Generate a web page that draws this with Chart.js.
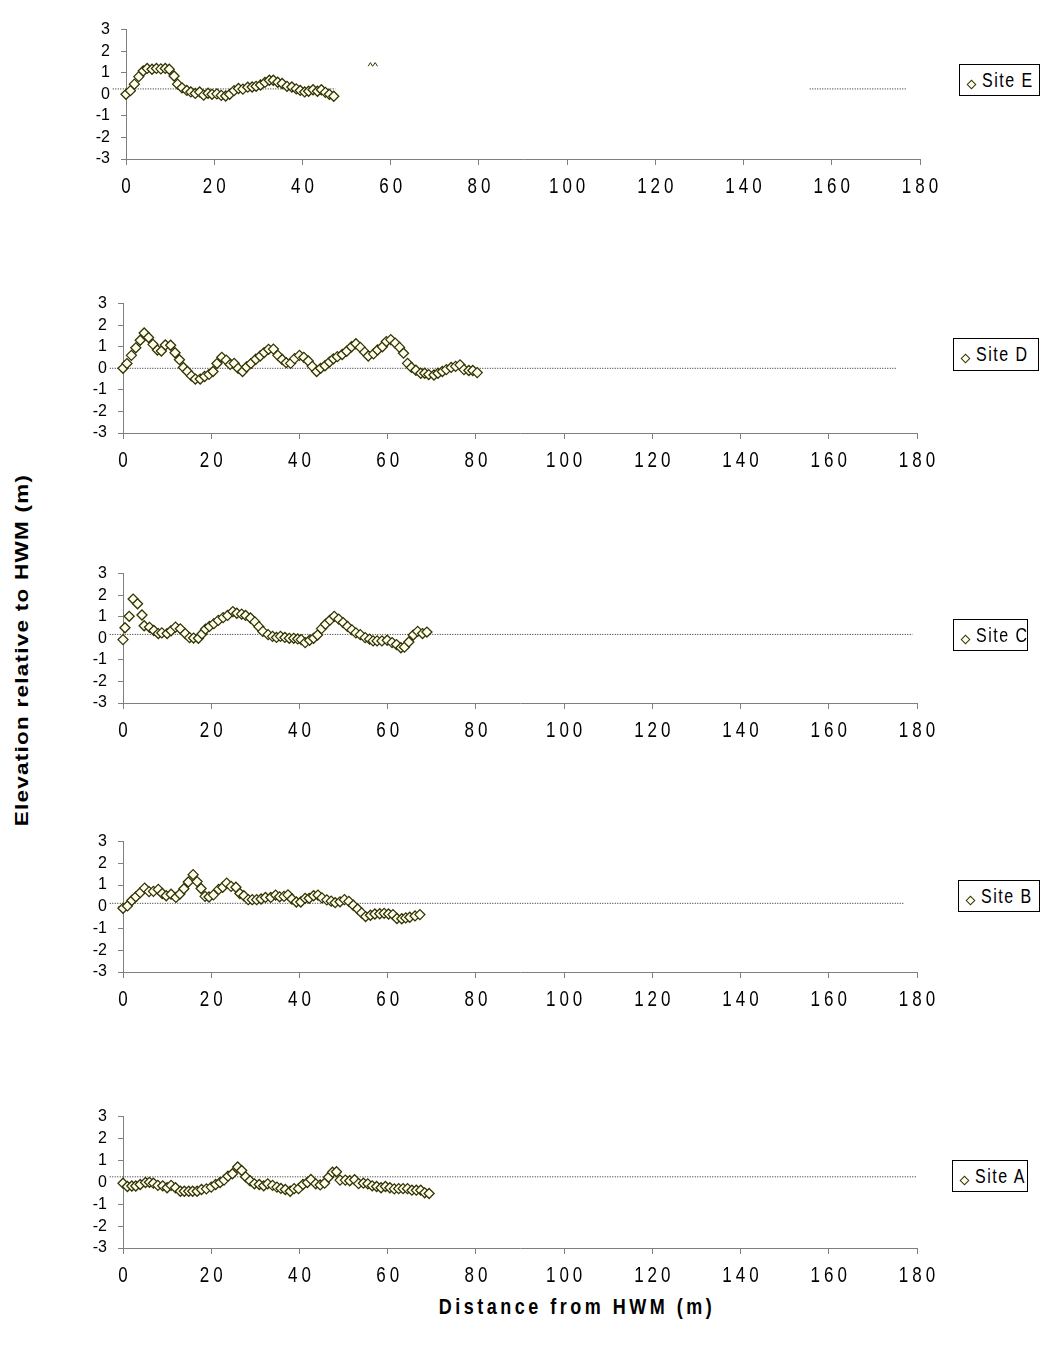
<!DOCTYPE html>
<html>
<head>
  <meta charset="UTF-8">
  <title>Beach profiles</title>
  <script src="https://cdn.jsdelivr.net/npm/chart.js"></script>
  <style>
    body {
      margin: 0;
      background: #fff;
      font-family: Arial, "Liberation Sans", sans-serif;
    }
    #page {
      position: relative;
      width: 1041px;
      height: 1350px;
      overflow: hidden;
      background: #fff;
    }
    canvas {
      position: absolute;
      left: 0;
    }
    .legend {
      position: absolute;
      box-sizing: border-box;
      border: 1px solid #000;
      background: #fff;
    }
    .legend .key {
      position: absolute;
      left: 8px;
      top: 16px;
      width: 5px;
      height: 5px;
      border: 1px solid #333300;
      background: #fffff0;
      transform: rotate(45deg);
    }
    .legend .txt {
      position: absolute;
      left: 22px;
      top: 4px;
      font-size: 16px;
      letter-spacing: 1.5px;
      white-space: nowrap;
      transform: scaleY(1.25);
      transform-origin: left top;
    }
    #ytitle {
      position: absolute;
      left: 22px;
      top: 650px;
      font-size: 18px;
      font-weight: bold;
      letter-spacing: 1px;
      white-space: nowrap;
      transform: translate(-50%, -50%) rotate(-90deg) scale(1.25, 1);
    }
    #xtitle {
      position: absolute;
      left: 577px;
      top: 1307px;
      font-size: 18px;
      font-weight: bold;
      letter-spacing: 3.5px;
      white-space: nowrap;
      transform: translate(-50%, -50%) scale(1, 1.2);
    }
  </style>
</head>
<body>
  <div id="page">
    <div id="ytitle">Elevation relative to HWM (m)</div>
    <div id="xtitle">Distance from HWM (m)</div>
  </div>
  <script>
    // profile readings, distance (m) and elevation (m)
    const siteE_x = [0, 1, 1.9, 2.9, 3.9, 4.8, 5.9, 6.9, 7.9, 8.9, 9.8, 10.9, 11.7, 12.7, 13.8, 14.7, 15.7, 16.7, 17.6, 18.6, 19.5, 20.6, 21.6, 22.6, 23.5, 24.5, 25.5, 26.5, 27.6, 28.6, 29.5, 30.5, 31.5, 32.5, 33.4, 34.4, 35.4, 36.5, 37.6, 38.6, 39.5, 40.5, 41.4, 42.4, 43.4, 44.3, 45.2, 46.1, 47.1];
    const siteE_y = [0, 0.17, 0.47, 0.82, 1.08, 1.2, 1.16, 1.2, 1.18, 1.2, 1.16, 0.85, 0.47, 0.3, 0.18, 0.11, 0.04, 0.11, -0.04, 0.05, 0, 0.02, -0.05, -0.08, 0, 0.17, 0.27, 0.24, 0.33, 0.34, 0.37, 0.43, 0.55, 0.65, 0.65, 0.56, 0.5, 0.37, 0.34, 0.25, 0.18, 0.11, 0.14, 0.21, 0.14, 0.21, 0.09, 0, -0.09];

    const siteD_x = [0, 0.9, 1.9, 2.9, 3.9, 4.8, 5.8, 6.8, 7.8, 8.7, 9.6, 10.8, 11.8, 12.8, 13.7, 14.6, 15.5, 16.4, 17.5, 18.5, 19.5, 20.4, 21.3, 22.4, 23.4, 24.3, 25.2, 26.1, 27.1, 28.0, 29.0, 30.1, 31.1, 32.0, 33.0, 34.1, 35.1, 36.1, 37.0, 38.0, 38.9, 40.0, 41.0, 42.0, 42.9, 43.9, 44.8, 45.8, 46.8, 47.7, 48.6, 49.7, 50.7, 51.8, 52.8, 53.8, 54.8, 55.6, 56.8, 57.7, 58.8, 59.7, 60.7, 61.7, 62.7, 63.6, 64.5, 65.4, 66.4, 67.5, 68.4, 69.3, 70.5, 71.4, 72.4, 73.3, 74.4, 75.4, 76.4, 77.3, 78.4, 79.3, 80.3];
    const siteD_y = [0, 0.22, 0.6, 0.95, 1.3, 1.64, 1.43, 1.11, 0.85, 0.8, 1.08, 1.07, 0.72, 0.4, 0.04, -0.15, -0.35, -0.5, -0.5, -0.38, -0.28, -0.15, 0.22, 0.51, 0.38, 0.18, 0.23, 0, -0.15, 0.06, 0.22, 0.42, 0.57, 0.73, 0.88, 0.89, 0.6, 0.41, 0.26, 0.23, 0.45, 0.6, 0.51, 0.34, 0.09, -0.15, 0, 0.12, 0.29, 0.44, 0.54, 0.64, 0.79, 1.0, 1.14, 0.97, 0.75, 0.57, 0.67, 0.85, 1.0, 1.24, 1.33, 1.17, 0.97, 0.7, 0.23, 0.04, -0.09, -0.23, -0.23, -0.29, -0.31, -0.23, -0.15, -0.06, 0.04, 0.09, 0.16, -0.06, -0.1, -0.1, -0.2];

    const siteC_x = [0, 0.45, 1.4, 2.3, 3.3, 4.3, 4.8, 6.0, 7.0, 8.0, 8.8, 10.0, 10.9, 11.9, 13.0, 14.1, 15.1, 16.0, 17.1, 17.9, 18.7, 19.6, 20.6, 21.6, 22.7, 23.7, 24.9, 25.8, 26.9, 27.8, 28.9, 29.9, 30.8, 31.7, 32.9, 33.9, 34.8, 35.7, 36.7, 37.7, 38.7, 39.6, 40.4, 41.3, 42.3, 43.2, 44.1, 45.0, 45.9, 46.9, 47.9, 48.9, 49.9, 50.9, 51.9, 52.8, 53.8, 54.9, 55.9, 56.7, 57.6, 58.7, 59.9, 61.0, 62.0, 63.0, 63.8, 64.8, 65.8, 66.8, 67.9, 68.9];
    const siteC_y = [-0.06, 0.49, 1.02, 1.82, 1.6, 1.08, 0.58, 0.51, 0.36, 0.22, 0.25, 0.22, 0.35, 0.52, 0.44, 0.22, 0.03, 0.01, 0, 0.2, 0.42, 0.55, 0.68, 0.83, 0.96, 1.06, 1.24, 1.16, 1.12, 1.06, 0.94, 0.76, 0.54, 0.32, 0.17, 0.09, 0.04, 0.09, 0.04, 0, 0, -0.03, -0.06, -0.2, -0.09, 0, 0.15, 0.45, 0.65, 0.84, 1.02, 0.89, 0.73, 0.55, 0.39, 0.25, 0.17, 0.03, -0.04, -0.12, -0.12, -0.12, -0.09, -0.2, -0.29, -0.44, -0.41, -0.17, 0.15, 0.32, 0.22, 0.29];

    const siteB_x = [0, 1.0, 2.0, 2.9, 3.9, 4.9, 5.9, 6.9, 8.0, 8.9, 9.8, 10.9, 12.0, 12.9, 13.8, 14.8, 15.9, 16.8, 17.7, 18.6, 19.5, 20.5, 21.7, 22.6, 23.5, 24.5, 25.6, 26.5, 27.4, 28.4, 29.3, 30.3, 31.3, 32.3, 33.5, 34.6, 35.5, 36.5, 37.4, 38.3, 39.3, 40.3, 41.3, 42.2, 43.2, 44.2, 45.1, 46.2, 47.2, 48.1, 49.2, 50.2, 51.2, 52.2, 53.2, 54.1, 55.0, 56.1, 57.1, 58.2, 59.2, 60.2, 61.2, 62.1, 63.2, 64.1, 65.0, 66.2, 67.3];
    const siteB_y = [-0.07, 0.04, 0.29, 0.46, 0.65, 0.86, 0.7, 0.71, 0.8, 0.61, 0.51, 0.58, 0.43, 0.59, 0.83, 1.14, 1.48, 1.16, 0.84, 0.48, 0.45, 0.55, 0.8, 0.9, 1.09, 0.94, 0.9, 0.61, 0.51, 0.33, 0.33, 0.33, 0.36, 0.43, 0.43, 0.54, 0.46, 0.48, 0.55, 0.36, 0.22, 0.22, 0.39, 0.39, 0.51, 0.54, 0.41, 0.32, 0.26, 0.19, 0.23, 0.33, 0.25, 0.07, -0.1, -0.28, -0.45, -0.39, -0.33, -0.32, -0.3, -0.33, -0.36, -0.54, -0.55, -0.51, -0.48, -0.42, -0.36];

    const siteA_x = [0, 1.0, 2.0, 2.9, 3.9, 5.1, 6.0, 6.9, 7.9, 9.0, 10.0, 10.9, 11.9, 13.0, 13.9, 14.9, 15.8, 16.8, 17.8, 18.9, 20.0, 21.0, 22.0, 22.9, 23.8, 24.8, 26.0, 26.9, 27.8, 28.8, 29.8, 30.9, 31.9, 32.8, 33.9, 34.9, 35.8, 36.8, 37.9, 38.8, 39.8, 40.8, 41.8, 42.6, 43.7, 44.7, 45.7, 46.6, 47.5, 48.4, 49.2, 50.4, 51.4, 52.5, 53.4, 54.5, 55.5, 56.5, 57.5, 58.5, 59.5, 60.5, 61.5, 62.5, 63.5, 64.5, 65.5, 66.5, 67.5, 68.4, 69.4];
    const siteA_y = [-0.04, -0.19, -0.17, -0.17, -0.1, -0.01, 0, -0.04, -0.14, -0.16, -0.25, -0.14, -0.25, -0.41, -0.41, -0.41, -0.41, -0.41, -0.33, -0.3, -0.22, -0.1, -0.01, 0.1, 0.28, 0.39, 0.7, 0.54, 0.25, 0.07, -0.07, -0.1, -0.16, -0.07, -0.14, -0.22, -0.28, -0.33, -0.41, -0.29, -0.29, -0.1, -0.01, 0.13, -0.07, -0.12, -0.04, 0.23, 0.46, 0.48, 0.1, 0.1, 0.07, 0.12, -0.06, -0.04, -0.07, -0.16, -0.19, -0.25, -0.19, -0.25, -0.3, -0.29, -0.29, -0.29, -0.36, -0.36, -0.36, -0.48, -0.51];

    // dotted HWM reference line per site (start/end distance, level); null = gap
    const hwmE_x = [-3, 47.5, 100, 155, 177];
    const hwmE_y = [0.25, 0.25, null, 0.25, 0.25];
    const hwmD_x = [-3, 175.5];
    const hwmD_y = [0, 0];
    const hwmC_x = [-3, 179];
    const hwmC_y = [0.18, 0.18];
    const hwmB_x = [-3, 177];
    const hwmB_y = [0.16, 0.16];
    const hwmA_x = [-3, 180];
    const hwmA_y = [0.25, 0.25];

    // stray mark above site E
    const caretE_x = [54.9, 55.4, 55.9, 56.5, 57.0];
    const caretE_y = [1.3, 1.47, 1.3, 1.47, 1.3];

    const siteNames = ['Site E', 'Site D', 'Site C', 'Site B', 'Site A'];
    const xTicks = [0, 20, 40, 60, 80, 100, 120, 140, 160, 180];
    const yTicks = [-3, -2, -1, 0, 1, 2, 3];

    // page placement of each plot area and legend box
    const layout = [
      { left: 126, top: 21, bottom: 159, legend: [959, 64, 81, 32] },
      { left: 123, top: 295, bottom: 433, legend: [953, 338, 86, 33] },
      { left: 123, top: 565, bottom: 703, legend: [953, 619, 75, 32] },
      { left: 123, top: 833, bottom: 972, legend: [958, 880, 82, 32] },
      { left: 123, top: 1108, bottom: 1248, legend: [952, 1160, 76, 32] }
    ];

    const series = [
      [siteE_x, siteE_y, hwmE_x, hwmE_y],
      [siteD_x, siteD_y, hwmD_x, hwmD_y],
      [siteC_x, siteC_y, hwmC_x, hwmC_y],
      [siteB_x, siteB_y, hwmB_x, hwmB_y],
      [siteA_x, siteA_y, hwmA_x, hwmA_y]
    ];

    const PLOT_W = 794, AXIS_W = 50, AXIS_H = 45, PAD_T = 12, PAD_B = 5;
    const MARK = '#333300', FILL = '#fffff0', AXIS = '#7f7f7f';

    const toPoints = (xs, ys) => xs.map((x, i) => ({ x: x, y: ys[i] }));

    // x labels in the original are tall and spaced out
    const stretchXLabels = {
      id: 'stretchXLabels',
      afterLayout(chart) {
        const s = chart.scales.x;
        if (s._stretched) return;
        const orig = s.drawLabels;
        s.drawLabels = function (area) {
          const ctx = this.ctx;
          ctx.save();
          ctx.letterSpacing = '4px';
          ctx.translate(2, this.top);
          ctx.scale(1, 1.25);
          ctx.translate(0, -this.top);
          orig.call(this, area);
          ctx.restore();
        };
        s._stretched = true;
      }
    };

    const page = document.getElementById('page');

    layout.forEach((p, k) => {
      const [xs, ys, hx, hy] = series[k];
      const canvas = document.createElement('canvas');
      canvas.width = 1041;
      canvas.height = (p.bottom - p.top) + PAD_T + AXIS_H + PAD_B;
      canvas.style.top = (p.top - PAD_T) + 'px';
      page.appendChild(canvas);

      const datasets = [
        {
          label: siteNames[k],
          data: toPoints(xs, ys),
          showLine: false,
          pointStyle: 'rectRot',
          pointRadius: 5,
          borderWidth: 1.3,
          borderColor: MARK,
          backgroundColor: FILL,
          clip: false
        },
        {
          type: 'line',
          data: toPoints(hx, hy),
          borderColor: '#222',
          borderWidth: 1,
          borderDash: [1, 1.5],
          pointRadius: 0,
          clip: false
        }
      ];
      if (k === 0) {
        datasets.push({
          type: 'line',
          data: toPoints(caretE_x, caretE_y),
          borderColor: MARK,
          borderWidth: 1,
          pointRadius: 0
        });
      }

      new Chart(canvas, {
        type: 'scatter',
        data: { datasets: datasets },
        options: {
          responsive: false,
          animation: false,
          devicePixelRatio: 1,
          layout: {
            padding: {
              left: p.left - AXIS_W,
              right: 1041 - p.left - PLOT_W,
              top: PAD_T,
              bottom: PAD_B
            }
          },
          plugins: {
            legend: { display: false },
            tooltip: { enabled: false }
          },
          scales: {
            x: {
              type: 'linear',
              min: xTicks[0],
              max: xTicks[xTicks.length - 1],
              afterBuildTicks: s => { s.ticks = xTicks.map(v => ({ value: v })); },
              afterFit: s => { s.height = AXIS_H; },
              border: { color: AXIS, width: 1 },
              grid: { drawOnChartArea: false, drawTicks: true, tickLength: 6, color: AXIS },
              ticks: {
                color: '#000',
                padding: 6,
                maxRotation: 0,
                autoSkip: false,
                font: { family: 'Arial, "Liberation Sans"', size: 17 }
              }
            },
            y: {
              type: 'linear',
              min: yTicks[0],
              max: yTicks[yTicks.length - 1],
              afterBuildTicks: s => { s.ticks = yTicks.map(v => ({ value: v })); },
              afterFit: s => { s.width = AXIS_W; },
              border: { color: AXIS, width: 1 },
              grid: { drawOnChartArea: false, drawTicks: true, tickLength: 5, color: AXIS },
              ticks: {
                color: '#000',
                padding: 11,
                autoSkip: false,
                font: { family: 'Arial, "Liberation Sans"', size: 16 }
              }
            }
          }
        },
        plugins: [stretchXLabels]
      });

      // legend box
      const [lx, ly, lw, lh] = p.legend;
      const box = document.createElement('div');
      box.className = 'legend';
      box.style.left = lx + 'px';
      box.style.top = ly + 'px';
      box.style.width = lw + 'px';
      box.style.height = lh + 'px';
      const key = document.createElement('span');
      key.className = 'key';
      const txt = document.createElement('span');
      txt.className = 'txt';
      txt.textContent = siteNames[k];
      box.appendChild(key);
      box.appendChild(txt);
      page.appendChild(box);
    });
  </script>
</body>
</html>
